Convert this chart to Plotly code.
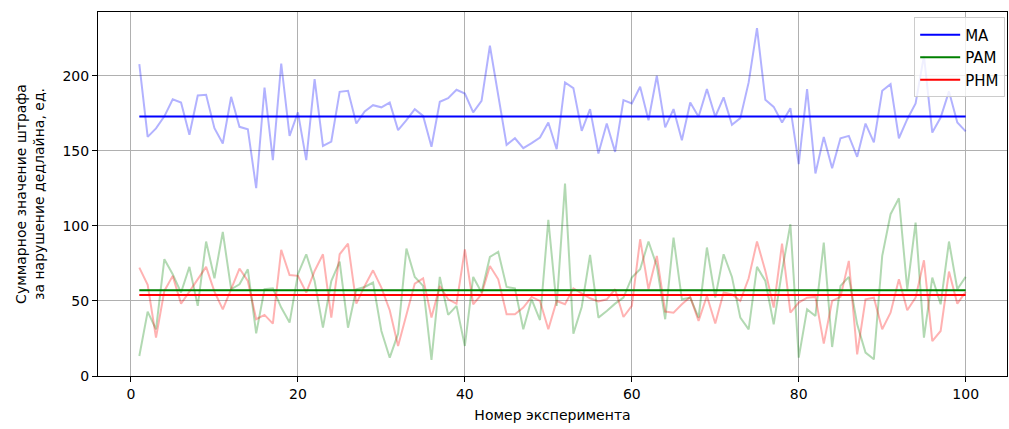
import plotly.graph_objects as go

# Номера экспериментов
experiments = list(range(1, 101))

# Суммарный штраф по экспериментам для каждого алгоритма
ma_values = [
    207.8, 159.3, 165.0, 173.0, 184.4, 182.2, 160.7, 186.9, 187.3, 165.1,
    154.9, 186.0, 166.0, 164.4, 125.1, 192.2, 143.8, 208.2, 160.0, 175.6,
    143.8, 197.8, 153.3, 156.2, 189.3, 190.0, 168.2, 176.2, 180.4, 179.0,
    182.2, 163.8, 170.4, 177.8, 173.3, 152.7, 182.7, 185.1, 190.7, 188.2,
    175.6, 183.3, 220.0, 187.0, 154.0, 158.4, 151.8, 155.1, 158.9, 168.9,
    151.1, 195.6, 191.8, 163.3, 177.8, 148.2, 168.2, 149.3, 183.8, 181.6,
    192.7, 170.4, 200.0, 165.6, 177.8, 157.1, 182.2, 172.7, 191.1, 172.7,
    185.6, 167.3, 171.8, 195.6, 231.8, 184.0, 179.3, 168.9, 178.4, 141.1,
    191.1, 134.9, 159.3, 138.4, 158.4, 160.0, 146.0, 168.2, 155.6, 190.0,
    194.4, 158.4, 171.1, 181.6, 213.3, 162.2, 172.2, 189.6, 168.9, 163.0,
]
pam_values = [
    13.3, 42.9, 31.1, 77.8, 67.8, 55.6, 72.7, 46.7, 89.6, 65.1,
    96.0, 57.8, 61.1, 71.1, 28.4, 57.8, 58.4, 45.6, 35.6, 67.8,
    81.1, 63.3, 32.2, 63.3, 76.2, 32.2, 57.8, 59.3, 62.2, 30.0,
    12.2, 28.2, 84.9, 66.0, 60.0, 10.7, 66.0, 40.7, 46.7, 20.0,
    66.0, 55.6, 79.3, 82.7, 59.3, 58.4, 31.1, 51.1, 37.3, 104.0,
    46.7, 128.2, 28.2, 46.0, 80.7, 38.9, 43.3, 48.2, 52.2, 65.6,
    71.1, 89.6, 73.3, 37.8, 92.2, 51.1, 52.2, 38.9, 85.6, 52.2,
    81.1, 66.0, 38.9, 31.1, 72.7, 63.3, 34.4, 70.0, 101.1, 12.2,
    44.4, 40.0, 88.9, 19.3, 60.0, 66.0, 34.4, 15.6, 11.1, 80.0,
    107.8, 118.4, 57.8, 102.2, 25.6, 65.6, 47.8, 89.6, 57.8, 66.0,
]
phm_values = [
    72.2, 60.7, 25.6, 56.7, 66.7, 48.2, 56.2, 64.4, 72.7, 56.2,
    44.4, 57.8, 71.6, 63.3, 37.8, 40.7, 34.9, 84.0, 67.3, 66.7,
    55.6, 70.0, 81.1, 38.9, 81.1, 88.2, 48.2, 60.0, 70.4, 58.9,
    43.8, 20.0, 40.0, 61.6, 65.1, 38.9, 60.0, 51.1, 48.2, 84.4,
    47.8, 54.4, 73.3, 64.4, 41.1, 41.1, 45.6, 52.7, 50.0, 31.1,
    50.0, 47.8, 58.4, 54.9, 51.8, 49.6, 51.1, 57.8, 39.3, 46.7,
    91.1, 57.8, 80.0, 42.9, 42.2, 47.8, 52.7, 36.7, 53.3, 35.0,
    55.6, 54.4, 50.0, 65.1, 89.6, 70.0, 45.6, 88.2, 42.2, 48.9,
    52.2, 52.7, 21.6, 50.0, 52.7, 76.7, 14.4, 51.1, 52.2, 31.1,
    42.2, 64.4, 43.8, 52.2, 77.1, 23.3, 30.0, 69.6, 48.2, 56.0,
]

# Средние уровни штрафа
series_names = ["MA", "PAM", "PHM"]
mean_levels = [172.9, 57.1, 54.0]

x_ticks = [0, 20, 40, 60, 80, 100]
y_ticks = [0, 50, 100, 150, 200]

faint = ["rgba(0,0,255,0.3)", "rgba(0,128,0,0.3)", "rgba(255,0,0,0.3)"]
solid = ["#0000ff", "#008000", "#ff0000"]
all_values = [ma_values, pam_values, phm_values]

fig = go.Figure()

for vals, col in zip(all_values, faint):
    fig.add_trace(go.Scatter(
        x=experiments, y=vals, mode="lines",
        line=dict(color=col, width=2), showlegend=False, hoverinfo="skip",
    ))

for name, level, col in zip(series_names, mean_levels, solid):
    fig.add_trace(go.Scatter(
        x=[experiments[0], experiments[-1]], y=[level, level], mode="lines",
        name=name, line=dict(color=col, width=2),
    ))

axis_common = dict(
    showline=True, linecolor="black", linewidth=1, mirror=True,
    ticks="outside", ticklen=5, tickcolor="black", tickwidth=1,
    showgrid=True, gridcolor="#b0b0b0", gridwidth=1,
    zeroline=False, tickfont=dict(size=14, color="black"),
)

fig.update_xaxes(
    range=[-3.95, 104.95], tickvals=x_ticks,
    title=dict(text="Номер эксперимента", font=dict(size=14, color="black"), standoff=9),
    **axis_common,
)
fig.update_yaxes(
    range=[0, 242.5], tickvals=y_ticks,
    title=dict(text="Суммарное значение штрафа<br>за нарушение дедлайна, ед.",
               font=dict(size=14, color="black"), standoff=14),
    **axis_common,
)

fig.update_layout(
    width=1009, height=429,
    margin=dict(l=98, r=2, t=12, b=53, autoexpand=False),
    plot_bgcolor="white", paper_bgcolor="white",
    font=dict(family="DejaVu Sans", size=14, color="black"),
    legend=dict(
        x=0.998, y=0.985, xanchor="right", yanchor="top",
        bgcolor="rgba(255,255,255,0.8)", bordercolor="#cccccc", borderwidth=1,
        font=dict(size=15), itemwidth=40, tracegroupgap=2,
    ),
)

fig.write_html("out.html")
